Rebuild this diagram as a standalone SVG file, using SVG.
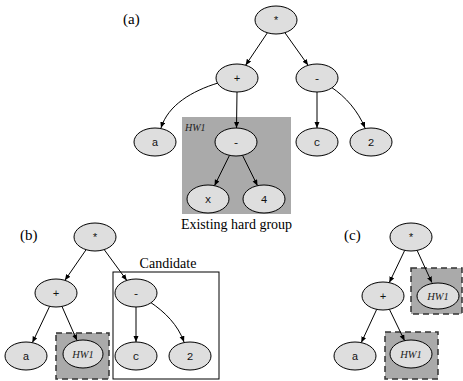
<svg xmlns="http://www.w3.org/2000/svg" width="463" height="381" viewBox="0 0 463 381">
<defs>
<marker id="arr" markerUnits="userSpaceOnUse" markerWidth="7" markerHeight="6" refX="6" refY="2.5" orient="auto">
<path d="M0,0 L6,2.5 L0,5 z" fill="#000"/>
</marker>
<style>
.n ellipse{fill:#dedede;stroke:#000;stroke-width:1}
.n text{font-family:"Liberation Mono",monospace;font-size:11px;text-anchor:middle;fill:#111}
.n text.hw{font-family:"Liberation Serif",serif;font-style:italic;font-size:10.5px;fill:#222}
.e path{fill:none;stroke:#000;stroke-width:1;marker-end:url(#arr)}
.lbl{font-family:"Liberation Serif",serif;font-size:14px;fill:#000}
.grp{fill:#aaaaaa}
.dash{fill:#aaaaaa;stroke:#333;stroke-width:1.5;stroke-dasharray:6,4}
</style>
</defs>
<rect width="463" height="381" fill="#fff"/>

<!-- labels -->
<text class="lbl" x="123" y="24" style="font-size:15px">(a)</text>
<text class="lbl" x="20" y="240" style="font-size:15px">(b)</text>
<text class="lbl" x="344" y="240" style="font-size:15px">(c)</text>

<!-- group boxes -->
<g id="hwgroup-a">
<rect class="grp" x="182" y="117" width="109" height="97"/>
<text x="185" y="131" style="font-family:'Liberation Serif',serif;font-style:italic;font-size:10px;fill:#222">HW1</text>
<text class="lbl" x="236.5" y="229" text-anchor="middle">Existing hard group</text>
</g>
<g id="candidate-b">
<rect x="113" y="272" width="106" height="107" fill="none" stroke="#000" stroke-width="1"/>
<text class="lbl" x="168" y="268" text-anchor="middle">Candidate</text>
</g>
<rect class="dash" x="56" y="333" width="53" height="46"/>
<rect class="dash" x="411" y="268" width="51" height="46"/>
<rect class="dash" x="385" y="332" width="53" height="47"/>

<!-- connectors -->
<g id="edges" class="e">
<path d="M267.4,32.8 L245.6,65.2"/>
<path d="M284.9,32.7 L308.1,65.3"/>
<path d="M218,83 C192,91 168,105 161,128"/>
<path d="M237,92 L236.5,128"/>
<path d="M317,92 L317,128"/>
<path d="M331,87 C346,97 358,111 365,128"/>
<path d="M229.5,155.3 L214.5,185.7"/>
<path d="M242.5,155.3 L257.5,185.7"/>

<path d="M86.1,249.7 L64.9,280.3"/>
<path d="M104.2,249.6 L126.8,280.4"/>
<path d="M49.6,306.4 L32.4,342.6"/>
<path d="M62,306.5 L77,340.5"/>
<path d="M136,307 L136,342"/>
<path d="M150,302 C165,312 178,325 184,342"/>

<path d="M404.7,250.4 L389.3,282.6"/>
<path d="M417.1,250.4 L431.9,282.6"/>
<path d="M376.7,309.4 L361.3,342.6"/>
<path d="M389.4,309.3 L404.6,340.7"/>
</g>

<!-- (a) nodes -->
<g id="a-star" class="n"><ellipse cx="276" cy="20" rx="21" ry="14"/><text x="276" y="24">*</text></g>
<g id="a-plus" class="n"><ellipse cx="237" cy="78" rx="21" ry="14"/><text x="237" y="82">+</text></g>
<g id="a-minus" class="n"><ellipse cx="317" cy="78" rx="21" ry="14"/><text x="317" y="82">-</text></g>
<g id="a-a" class="n"><ellipse cx="155" cy="142" rx="21" ry="14"/><text x="155" y="146">a</text></g>
<g id="a-minus2" class="n"><ellipse cx="236" cy="142" rx="21" ry="14"/><text x="236" y="146">-</text></g>
<g id="a-c" class="n"><ellipse cx="317" cy="142" rx="21" ry="14"/><text x="317" y="146">c</text></g>
<g id="a-2" class="n"><ellipse cx="371" cy="142" rx="21" ry="14"/><text x="371" y="146">2</text></g>
<g id="a-x" class="n"><ellipse cx="208" cy="199" rx="21" ry="14"/><text x="208" y="203">x</text></g>
<g id="a-4" class="n"><ellipse cx="264" cy="199" rx="21" ry="14"/><text x="264" y="203">4</text></g>

<!-- (b) nodes -->
<g id="b-star" class="n"><ellipse cx="95" cy="237" rx="21" ry="14"/><text x="95" y="241">*</text></g>
<g id="b-plus" class="n"><ellipse cx="56" cy="293" rx="21" ry="14"/><text x="56" y="297">+</text></g>
<g id="b-minus" class="n"><ellipse cx="136" cy="293" rx="21" ry="14"/><text x="136" y="297">-</text></g>
<g id="b-a" class="n"><ellipse cx="26" cy="356" rx="21" ry="14"/><text x="26" y="360">a</text></g>
<g id="b-hw1" class="n"><ellipse cx="83" cy="354" rx="20" ry="14"/><text class="hw" x="83" y="358">HW1</text></g>
<g id="b-c" class="n"><ellipse cx="136" cy="356" rx="21" ry="14"/><text x="136" y="360">c</text></g>
<g id="b-2" class="n"><ellipse cx="190" cy="356" rx="21" ry="14"/><text x="190" y="360">2</text></g>

<!-- (c) nodes -->
<g id="c-star" class="n"><ellipse cx="411" cy="237" rx="21" ry="14"/><text x="411" y="241">*</text></g>
<g id="c-plus" class="n"><ellipse cx="383" cy="296" rx="21" ry="14"/><text x="383" y="300">+</text></g>
<g id="c-hw1r" class="n"><ellipse cx="438" cy="296" rx="21" ry="13"/><text class="hw" x="438" y="300">HW1</text></g>
<g id="c-a" class="n"><ellipse cx="355" cy="356" rx="21" ry="14"/><text x="355" y="360">a</text></g>
<g id="c-hw1l" class="n"><ellipse cx="411" cy="354" rx="21" ry="14"/><text class="hw" x="411" y="358">HW1</text></g>
</svg>
